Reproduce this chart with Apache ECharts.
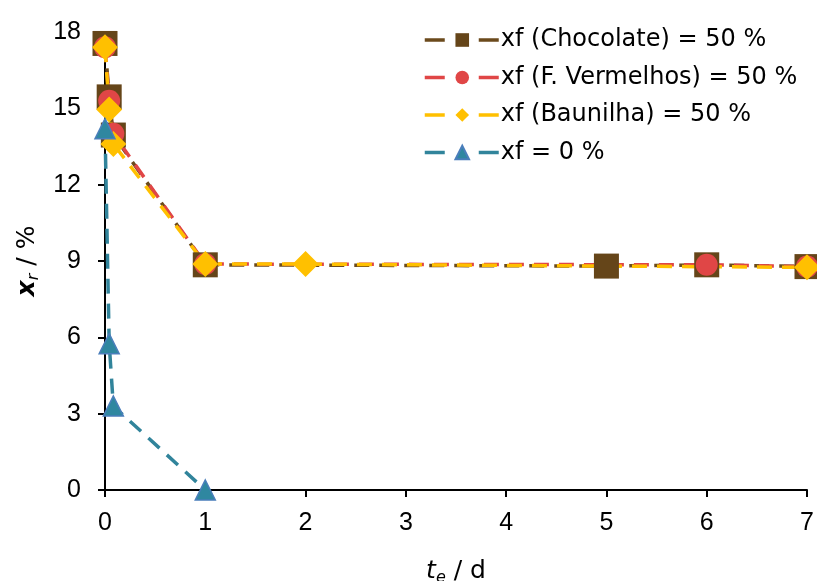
<!DOCTYPE html>
<html><head><meta charset="utf-8">
<script src="https://cdn.jsdelivr.net/npm/echarts@6/dist/echarts.min.js"></script>
<style>html,body{margin:0;padding:0;background:#fff}#c{width:817px;height:581px}</style>
</head><body><div id="c"></div>
<script>
var xChocolate = [0, 0.0417, 0.0833, 1, 5, 6, 7];
var yChocolate = [17.55, 15.45, 13.95, 8.85, 8.8, 8.85, 8.78];
var xVermelhos = [0, 0.0417, 0.0833, 1, 6, 7];
var yVermelhos = [17.4, 15.3, 14.0, 8.88, 8.85, 8.78];
var xBaunilha = [0, 0.0417, 0.0833, 1, 2, 7];
var yBaunilha = [17.4, 14.95, 13.6, 8.88, 8.88, 8.75];
var xZero = [0, 0.0417, 0.0833, 1];
var yZero = [14.2, 5.75, 3.3, 0];
var seriesNames = ['xf (Chocolate) = 50 %', 'xf (F. Vermelhos) = 50 %', 'xf (Baunilha) = 50 %', 'xf = 0 %'];
var xTicks = [0, 1, 2, 3, 4, 5, 6, 7];
var yTicks = [0, 3, 6, 9, 12, 15, 18];

function pairs(xs, ys) { return xs.map(function (x, i) { return [x, ys[i]]; }); }

var chart = echarts.init(document.getElementById('c'), null, {renderer: 'canvas'});
var axisFont = {fontFamily: 'Liberation Sans', fontSize: 25, color: '#000'};
var colors = ['#6B4A1C', '#E04646', '#FFC000', '#31849B'];
function mk(i, data, symbol, size, mcolor, bcolor) {
  return {
    name: seriesNames[i], type: 'line', data: data, symbol: symbol, symbolSize: size,
    lineStyle: {color: colors[i], width: 3.5, type: [15, 10]},
    itemStyle: {color: mcolor, borderColor: bcolor || mcolor, borderWidth: bcolor ? 1.5 : 0},
    emphasis: {disabled: true}, animation: false, z: 2
  };
}
var legendData = seriesNames.map(function (n, i) {
  return {name: n, lineStyle: {width: 3.5, type: [20, 34], color: colors[i]}};
});
chart.setOption({
  animation: false,
  grid: {left: 105, right: 10, top: 32, bottom: 91, containLabel: false, outerBoundsMode: 'none'},
  legend: {
    orient: 'vertical', left: 418, top: 23, itemWidth: 75, itemHeight: 17, itemGap: 13.5,
    textStyle: {fontFamily: 'DejaVu Sans', fontSize: 24, color: '#000', padding: [0, 0, 0, -4]},
    data: legendData
  },
  xAxis: {
    type: 'value', min: xTicks[0], max: xTicks[xTicks.length - 1], interval: 1,
    splitLine: {show: false},
    axisLine: {onZero: false, lineStyle: {color: '#000', width: 2}},
    axisTick: {show: true, length: 7, lineStyle: {color: '#000', width: 2}},
    axisLabel: Object.assign({margin: 21}, axisFont),
    name: '{i|t}{s|e}{n| / d}', nameLocation: 'middle', nameGap: 66,
    nameTextStyle: {rich: {
      i: {fontFamily: 'DejaVu Sans', fontStyle: 'italic', fontSize: 25, color: '#000'},
      s: {fontFamily: 'DejaVu Sans', fontStyle: 'italic', fontSize: 16, color: '#000', padding: [14, 0, 0, 0]},
      n: {fontFamily: 'DejaVu Sans', fontSize: 25, color: '#000'}
    }}
  },
  yAxis: {
    type: 'value', min: yTicks[0], max: yTicks[yTicks.length - 1], interval: 3,
    splitLine: {show: false},
    axisLine: {onZero: false, lineStyle: {color: '#000', width: 2}},
    axisTick: {show: true, length: 7, lineStyle: {color: '#000', width: 2}},
    axisLabel: Object.assign({margin: 24}, axisFont),
    name: '{i|x}{s|r}{n| / %}', nameLocation: 'middle', nameGap: 62, nameRotate: 90,
    nameTextStyle: {rich: {
      i: {fontFamily: 'DejaVu Sans', fontStyle: 'italic', fontWeight: 'bold', fontSize: 25, color: '#000'},
      s: {fontFamily: 'DejaVu Sans', fontStyle: 'italic', fontSize: 16, color: '#000', padding: [14, 0, 0, 0]},
      n: {fontFamily: 'DejaVu Sans', fontSize: 25, color: '#000'}
    }}
  },
  series: [
    mk(0, pairs(xChocolate, yChocolate), 'rect', 25, '#654519'),
    mk(1, pairs(xVermelhos, yVermelhos), 'circle', 22, '#E04646'),
    mk(2, pairs(xBaunilha, yBaunilha), 'diamond', 26, '#FFC000'),
    mk(3, pairs(xZero, yZero), 'triangle', 20, '#2F87A0', '#4A7EBB')
  ]
});
</script></body></html>
